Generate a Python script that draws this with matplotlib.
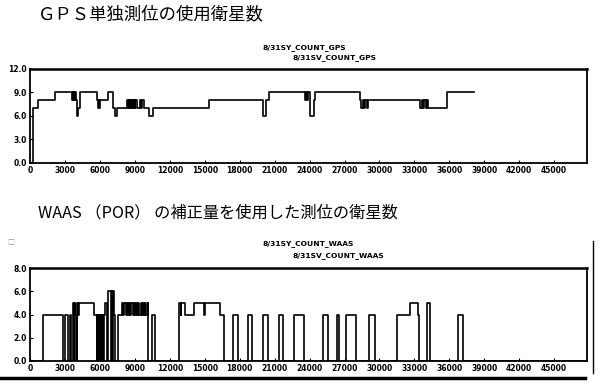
"""
GPS / WAAS 衛星数チャート (スキャン図の再現)
"""
import matplotlib
matplotlib.use('Agg')
import matplotlib.pyplot as plt
from matplotlib.lines import Line2D

plt.rcParams['font.family'] = ['Noto Sans CJK JP', 'DejaVu Sans']

# 上段: GPS単独測位の使用衛星数 (時刻, 衛星数) ステップ
gps_t = [0, 250, 690, 2150,
         3600, 3650, 3700, 3760, 3820, 3880, 3940, 4000, 4130, 4300,
         5760, 5820, 5900, 5960, 6000, 6700, 7130, 7300, 7480,
         8340, 8420, 8480, 8560, 8620, 8700, 8760, 8840, 8900, 8980, 9050, 9200,
         9460, 9550, 9620, 9800, 10230, 10570,
         15390, 20030, 20300, 20550,
         23640, 23720, 23800, 23900, 24070, 24410, 24500,
         28370, 28450, 28550, 28650, 28750, 28900, 29000,
         33520, 33620, 33750, 33850, 34000, 34100, 34210,
         35840, 38080]
gps_n = [0, 7, 8, 9,
         8, 9, 8, 9, 8, 9, 8, 6, 7, 9,
         8, 7, 8, 7, 8, 9, 7, 6, 7,
         8, 7, 8, 7, 8, 7, 8, 7, 8, 7, 8, 7,
         8, 7, 8, 7, 6, 7,
         8, 6, 8, 9,
         8, 9, 8, 9, 6, 8, 9,
         8, 7, 8, 7, 8, 7, 8,
         7, 8, 7, 8, 7, 8, 7,
         9, 9]

# 下段: WAAS補正を使用した測位の衛星数
waas_t = [0, 1090, 2810,
          3040, 3240, 3440, 3560,
          3670, 3720, 3760, 3800, 3850, 3900, 3950, 4000, 4060, 4100, 4160, 4240,
          5530, 5730, 5780, 5830, 5880, 5940, 6000, 6060, 6120, 6180, 6240, 6300,
          6380, 6450, 6620,
          6700, 6950, 7000, 7060, 7100, 7250, 7300,
          7540, 7880,
          8000, 8100, 8200, 8300, 8400, 8500, 8600, 8700, 8800, 8900, 9000,
          9100, 9200, 9300, 9400, 9500, 9600, 9700, 9800, 9900, 10000, 10100,
          10170, 10460, 10750,
          12750, 12950, 13000, 13320, 14040, 14980, 15030, 16330, 16680,
          17420, 17820, 18680, 19080, 19990, 20400, 21340, 21720, 22630, 23490,
          25160, 25560, 26360, 26560, 27160, 28020, 29080, 29660,
          31520, 32660, 33290, 33380, 34100, 34320, 36730, 37190, 47800]
waas_n = [0, 4, 0,
          4, 0, 4, 0,
          4, 5, 4, 0, 4, 5, 4, 0, 4, 5, 4, 5,
          4, 0, 4, 0, 4, 0, 4, 0, 4, 0, 4, 0,
          4, 5, 0,
          6, 0, 6, 0, 6, 4, 0,
          4, 5,
          4, 5, 4, 5, 4, 5, 4, 5, 4, 5, 4,
          5, 4, 5, 4, 5, 4, 5, 4, 5, 4, 5,
          0, 4, 0,
          5, 4, 5, 4, 5, 4, 5, 4, 0,
          4, 0, 4, 0, 4, 0, 4, 0, 4, 0,
          4, 0, 4, 0, 4, 0, 4, 0,
          4, 5, 4, 0, 5, 0, 4, 0, 0]

x_ticks = list(range(0, 45001, 3000))
gps_yticks = [0, 3, 6, 9, 12]
waas_yticks = [0, 2, 4, 6, 8]

fig = plt.figure(figsize=(6, 3.89), dpi=100, facecolor='white')


def style_axes(ax, yticks):
    ax.set_xlim(0, 47800)
    ax.set_ylim(yticks[0], yticks[-1])
    ax.set_xticks(x_ticks)
    ax.set_xticklabels([str(v) for v in x_ticks], fontsize=5.5, fontweight='bold',
                       family='DejaVu Sans')
    ax.set_yticks(yticks)
    ax.set_yticklabels([f'{v:.1f}' for v in yticks], fontsize=5.5, fontweight='bold',
                       family='DejaVu Sans')
    ax.tick_params(direction='in', length=2.5, width=0.8, pad=2)
    for s in ax.spines.values():
        s.set_linewidth(1.3)
    ax.spines['top'].set_linewidth(1.8)


ax1 = fig.add_axes([0.05, 0.581, 0.928, 0.242])
ax1.step(gps_t, gps_n, where='post', color='black', linewidth=1.2)
style_axes(ax1, gps_yticks)

ax2 = fig.add_axes([0.05, 0.072, 0.928, 0.239])
ax2.step(waas_t, waas_n, where='post', color='black', linewidth=1.2)
style_axes(ax2, waas_yticks)

# タイトル
fig.text(0.063, 0.962, 'ＧＰＳ単独測位の使用衛星数', fontsize=12.5, va='center', ha='left')
fig.text(0.063, 0.452, 'WAAS （POR） の補正量を使用した測位の衛星数', fontsize=11.7,
         va='center', ha='left')

# サブタイトル
sub_kw = dict(fontsize=5.4, fontweight='bold', family='DejaVu Sans', va='center')
fig.text(0.437, 0.877, '8/31SY_COUNT_GPS', **sub_kw)
fig.text(0.487, 0.851, '8/31SV_COUNT_GPS', **sub_kw)
fig.text(0.437, 0.375, '8/31SY_COUNT_WAAS', **sub_kw)
fig.text(0.487, 0.342, '8/31SV_COUNT_WAAS', **sub_kw)
fig.text(0.012, 0.375, '□', fontsize=5, color='#999999', va='center')

# スキャン時の枠線
fig.add_artist(Line2D([0.0, 0.975], [0.028, 0.028], color='black', linewidth=2.5))
fig.add_artist(Line2D([0.988, 0.988], [0.04, 0.38], color='black', linewidth=1.0))

fig.savefig('out.png', dpi=100, facecolor='white')
plt.close(fig)
